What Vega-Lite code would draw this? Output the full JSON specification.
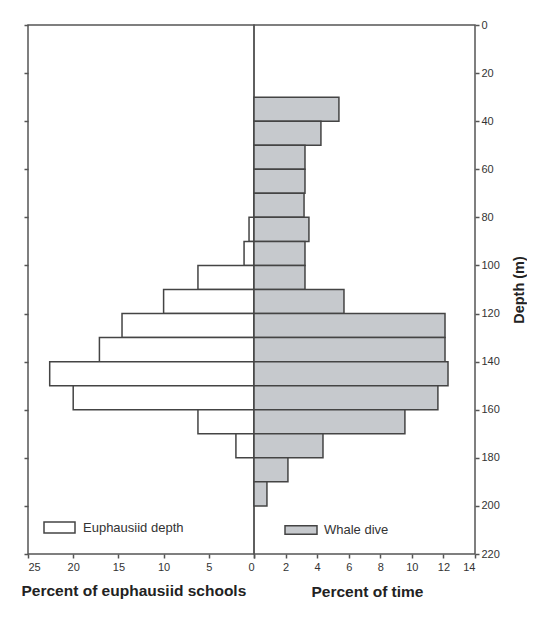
{
  "$schema": "https://vega.github.io/schema/vega-lite/v6.json",
  "padding": {"left": 20, "top": 18, "right": 0, "bottom": 0},
  "bounds": "flush",
  "spacing": 0,
  "background": "white",
  "config": {
    "font": "Liberation Sans",
    "view": {"stroke": "#555555", "strokeWidth": 1.5},
    "axis": {
      "labelFont": "Liberation Sans",
      "labelFontSize": 11,
      "labelColor": "#333333",
      "tickColor": "#555555",
      "tickWidth": 1.5,
      "tickSize": 4,
      "domain": false,
      "grid": false,
      "titleFont": "Liberation Sans",
      "titleColor": "#222222"
    },
    "legend": {
      "labelFont": "Liberation Sans",
      "labelFontSize": 13,
      "labelColor": "#333333"
    }
  },
  "datasets": {
    "euph": [
      {"d0": 80, "d1": 90, "pct": 0.55},
      {"d0": 90, "d1": 100, "pct": 1.1},
      {"d0": 100, "d1": 110, "pct": 6.2},
      {"d0": 110, "d1": 120, "pct": 10.0},
      {"d0": 120, "d1": 130, "pct": 14.6},
      {"d0": 130, "d1": 140, "pct": 17.1},
      {"d0": 140, "d1": 150, "pct": 22.6},
      {"d0": 150, "d1": 160, "pct": 20.0},
      {"d0": 160, "d1": 170, "pct": 6.2},
      {"d0": 170, "d1": 180, "pct": 2.0}
    ],
    "whale": [
      {"d0": 30, "d1": 40, "pct": 5.38},
      {"d0": 40, "d1": 50, "pct": 4.24},
      {"d0": 50, "d1": 60, "pct": 3.23},
      {"d0": 60, "d1": 70, "pct": 3.23},
      {"d0": 70, "d1": 80, "pct": 3.17},
      {"d0": 80, "d1": 90, "pct": 3.48},
      {"d0": 90, "d1": 100, "pct": 3.23},
      {"d0": 100, "d1": 110, "pct": 3.23},
      {"d0": 110, "d1": 120, "pct": 5.7},
      {"d0": 120, "d1": 130, "pct": 12.1},
      {"d0": 130, "d1": 140, "pct": 12.1},
      {"d0": 140, "d1": 150, "pct": 12.29},
      {"d0": 150, "d1": 160, "pct": 11.65},
      {"d0": 160, "d1": 170, "pct": 9.56},
      {"d0": 170, "d1": 180, "pct": 4.37},
      {"d0": 180, "d1": 190, "pct": 2.15},
      {"d0": 190, "d1": 200, "pct": 0.82}
    ]
  },
  "resolve": {
    "scale": {"x": "independent", "y": "independent", "fill": "independent"},
    "legend": {"fill": "independent"}
  },
  "hconcat": [
    {
      "width": 226,
      "height": 529,
      "data": {"name": "euph"},
      "mark": {"type": "rect", "stroke": "#444444", "strokeWidth": 1.5},
      "encoding": {
        "y": {
          "field": "d0",
          "type": "quantitative",
          "scale": {"domain": [0, 220], "reverse": true, "nice": false},
          "axis": {
            "orient": "left",
            "values": [0, 20, 40, 60, 80, 100, 120, 140, 160, 180, 200, 220],
            "labels": false,
            "title": null
          }
        },
        "y2": {"field": "d1"},
        "x": {
          "field": "pct",
          "type": "quantitative",
          "scale": {"domain": [0, 25], "reverse": true, "nice": false},
          "axis": {
            "values": [0, 5, 10, 15, 20, 25],
            "labelPadding": 3,
            "title": "Percent of euphausiid schools",
            "titleFontSize": 15.5,
            "titleFontWeight": "bold",
            "titleX": -7,
            "titleY": 36,
            "titleAlign": "left",
            "titleBaseline": "middle"
          }
        },
        "x2": {"datum": 0},
        "fill": {
          "datum": "Euphausiid depth",
          "type": "nominal",
          "scale": {"range": ["#ffffff"]},
          "legend": {
            "title": null,
            "orient": "none",
            "legendX": 15,
            "legendY": 486,
            "symbolType": "M-1,-0.35H1V0.35H-1Z",
            "symbolSize": 961,
            "symbolStrokeColor": "#444444",
            "symbolStrokeWidth": 1.5,
            "labelOffset": 7
          }
        }
      }
    },
    {
      "width": 221,
      "height": 529,
      "data": {"name": "whale"},
      "mark": {"type": "rect", "stroke": "#444444", "strokeWidth": 1.5},
      "encoding": {
        "y": {
          "field": "d0",
          "type": "quantitative",
          "scale": {"domain": [0, 220], "reverse": true, "nice": false},
          "axis": {
            "orient": "right",
            "values": [0, 20, 40, 60, 80, 100, 120, 140, 160, 180, 200, 220],
            "labelPadding": 2,
            "title": "Depth (m)",
            "titleFontSize": 14.5,
            "titleFontWeight": "bold",
            "titleAngle": 270,
            "titleX": 44,
            "titleY": 264.5,
            "titleAlign": "center",
            "titleBaseline": "middle"
          }
        },
        "y2": {"field": "d1"},
        "x": {
          "field": "pct",
          "type": "quantitative",
          "scale": {"domain": [0, 14], "nice": false},
          "axis": {
            "values": [0, 2, 4, 6, 8, 10, 12, 14],
            "labelExpr": "datum.value == 0 ? '' : datum.label",
            "labelPadding": 3,
            "title": "Percent of time",
            "titleFontSize": 15.5,
            "titleFontWeight": "bold",
            "titleX": 57,
            "titleY": 37,
            "titleAlign": "left",
            "titleBaseline": "middle"
          }
        },
        "x2": {"datum": 0},
        "fill": {
          "datum": "Whale dive",
          "type": "nominal",
          "scale": {"range": ["#c6c9cd"]},
          "legend": {
            "title": null,
            "orient": "none",
            "legendX": 30,
            "legendY": 488,
            "symbolType": "M-1,-0.26H1V0.26H-1Z",
            "symbolSize": 1024,
            "symbolStrokeColor": "#444444",
            "symbolStrokeWidth": 1.5,
            "labelOffset": 6
          }
        }
      }
    }
  ]
}
